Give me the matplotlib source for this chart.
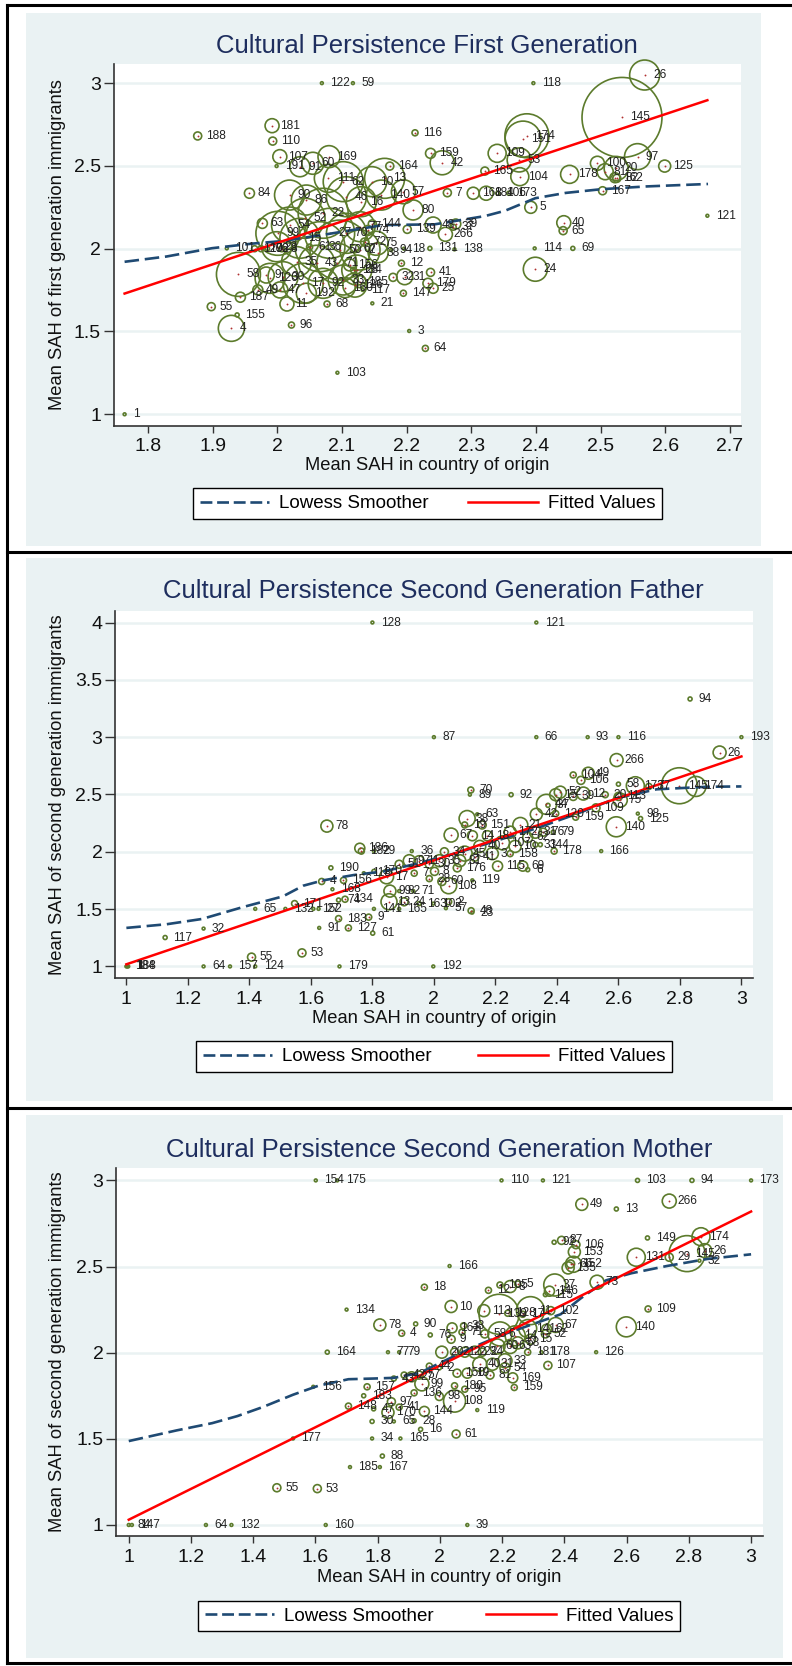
import matplotlib
matplotlib.use("Agg")
import matplotlib.pyplot as plt
from matplotlib.lines import Line2D
from matplotlib.patches import Rectangle
import numpy as np

W, H = 792, 1666

# ---------------- panel 1: first generation ----------------
P1_LABELS = [
    "26", "145", "118", "174", "151", "109", "53", "104", "165", "159",
    "42", "116", "178", "100", "81", "20", "162", "82", "97", "125",
    "167", "121", "5", "40", "65", "114", "69", "24", "173", "106",
    "184", "168", "7", "138", "131", "48", "39", "37", "266", "41",
    "179", "25", "80", "84", "63", "58", "187", "55", "155", "4",
    "96", "11", "68", "21", "117", "185", "147", "32", "31", "12",
    "3", "64", "103", "1", "94", "18", "38", "156", "134", "101",
    "188", "181", "110", "107", "191", "122", "59", "60", "169", "164",
    "13", "139", "111", "62", "10", "57", "91", "90", "86", "46",
    "16", "140", "54", "52", "22", "99", "15", "27", "70", "77",
    "36", "50", "2", "75", "35", "43", "71", "28", "120", "30",
    "17", "92", "33", "126", "47", "192", "160", "49", "9", "23",
    "129", "102", "76", "8", "61", "67", "72", "74", "144"]
P1_X = [
    2.568, 2.533, 2.396, 2.386, 2.380, 2.340, 2.374, 2.375, 2.321, 2.237,
    2.255, 2.213, 2.452, 2.495, 2.507, 2.524, 2.522, 2.525, 2.557, 2.599,
    2.503, 2.665, 2.392, 2.443, 2.442, 2.398, 2.457, 2.399, 2.358, 2.341,
    2.323, 2.303, 2.263, 2.274, 2.236, 2.241, 2.276, 2.272, 2.260, 2.237,
    2.233, 2.241, 2.210, 1.957, 1.977, 1.940, 1.943, 1.898, 1.938, 1.929,
    2.022, 2.015, 2.077, 2.147, 2.132, 2.128, 2.195, 2.179, 2.197, 2.192,
    2.204, 2.229, 2.093, 1.764, 2.176, 2.196, 2.156, 2.112, 2.118, 1.922,
    1.877, 1.992, 1.993, 2.004, 1.999, 2.069, 2.117, 2.055, 2.080, 2.174,
    2.166, 2.201, 2.079, 2.102, 2.146, 2.195, 2.035, 2.019, 2.045, 2.107,
    2.130, 2.161, 2.019, 2.043, 2.071, 2.001, 2.035, 2.081, 2.107, 2.128,
    2.066, 2.097, 2.128, 2.153, 2.030, 2.061, 2.092, 2.123, 1.989, 2.009,
    2.040, 2.071, 2.102, 2.120, 2.004, 2.045, 2.105, 1.970, 1.983, 1.999,
    1.965, 1.975, 1.985, 2.007, 2.050, 2.120, 2.135, 2.140, 2.147]
P1_Y = [
    3.049, 2.793, 3.0, 2.682, 2.662, 2.576, 2.536, 2.435, 2.469, 2.576,
    2.519, 2.700, 2.449, 2.516, 2.465, 2.485, 2.429, 2.425, 2.556, 2.499,
    2.350, 2.199, 2.250, 2.157, 2.109, 2.002, 2.002, 1.876, 2.335, 2.335,
    2.335, 2.335, 2.338, 1.996, 2.002, 2.143, 2.149, 2.130, 2.087, 1.857,
    1.791, 1.761, 2.234, 2.335, 2.153, 1.845, 1.707, 1.650, 1.600, 1.519,
    1.539, 1.666, 1.666, 1.670, 1.751, 1.801, 1.731, 1.827, 1.831, 1.912,
    1.503, 1.398, 1.251, 1.0, 1.992, 2.0, 1.976, 1.902, 1.870, 2.002,
    2.681, 2.743, 2.650, 2.556, 2.499, 3.0, 3.0, 2.516, 2.556, 2.499,
    2.425, 2.117, 2.425, 2.405, 2.405, 2.344, 2.495, 2.324, 2.294, 2.314,
    2.284, 2.324, 2.143, 2.184, 2.214, 2.093, 2.063, 2.093, 2.093, 2.133,
    2.012, 1.992, 1.992, 2.033, 1.922, 1.912, 1.912, 1.871, 1.821, 1.831,
    1.791, 1.791, 1.811, 1.780, 1.751, 1.731, 1.765, 1.751, 1.841, 2.012,
    2.0, 2.0, 2.0, 2.0, 2.010, 2.000, 2.040, 2.110, 2.150]
P1_W = [
    225, 1600, 2, 484, 324, 81, 144, 81, 16, 25,
    144, 9, 81, 49, 64, 144, 25, 16, 169, 36,
    16, 2, 36, 49, 16, 2, 4, 144, 4, 4,
    49, 36, 16, 2, 4, 64, 25, 9, 49, 16,
    25, 25, 100, 25, 25, 484, 25, 16, 4, 169,
    9, 49, 9, 2, 2, 36, 9, 16, 64, 9,
    2, 9, 2, 2, 2, 2, 100, 36, 9, 2,
    16, 49, 16, 49, 2, 2, 2, 121, 121, 16,
    400, 16, 196, 400, 225, 144, 100, 225, 225, 400,
    225, 225, 324, 400, 625, 484, 400, 625, 400, 225,
    625, 900, 400, 144, 225, 324, 400, 225, 225, 225,
    400, 225, 225, 144, 64, 100, 100, 25, 64, 225,
    9, 9, 4, 9, 9, 16, 16, 25, 16]
P1_LOW_X = [1.764, 1.829, 1.899, 1.962, 2.008, 2.079, 2.164, 2.243,
            2.321, 2.352, 2.399, 2.446, 2.500, 2.570, 2.666]
P1_LOW_Y = [1.921, 1.953, 2.003, 2.031, 2.046, 2.089, 2.143, 2.147,
            2.197, 2.229, 2.305, 2.337, 2.359, 2.376, 2.391]
P1_FIT = (-0.557, 1.296)
P1_XTICKS = [1.8, 1.9, 2.0, 2.1, 2.2, 2.3, 2.4, 2.5, 2.6, 2.7]
P1_XTICKLABELS = ["1.8", "1.9", "2", "2.1", "2.2", "2.3", "2.4", "2.5", "2.6", "2.7"]
P1_YTICKS = [1, 1.5, 2, 2.5, 3]
P1_YTICKLABELS = ["1", "1.5", "2", "2.5", "3"]

# ---------------- panel 2: second generation, father ----------------
P2_LABELS = [
    "128", "121", "94", "87", "66", "93", "116", "193", "26", "266",
    "104", "49", "106", "173", "58", "145", "174", "77", "113", "75",
    "92", "70", "89", "44", "15", "52", "12", "20", "39", "109",
    "159", "120", "37", "42", "98", "125", "140", "166", "178", "144",
    "78", "63", "38", "190", "4", "156", "168", "74", "134", "65",
    "117", "32", "171", "132", "152", "27", "91", "127", "183", "9",
    "61", "53", "55", "64", "157", "124", "179", "192", "184", "188",
    "1", "186", "182", "29", "36", "99", "82", "71", "141", "165",
    "163", "24", "13", "102", "2", "57", "48", "23", "119", "108",
    "60", "176", "17", "51", "97", "11", "30", "35", "34", "67",
    "81", "45", "14", "40", "18", "3", "115", "107", "172", "21",
    "10", "62", "31", "76", "79", "69", "6", "158", "33", "151",
    "19", "41", "8", "28", "7", "170", "118"]
P2_X = [
    1.800, 2.333, 2.833, 2.000, 2.333, 2.500, 2.600, 3.000, 2.929, 2.594,
    2.453, 2.502, 2.478, 2.655, 2.600, 2.798, 2.852, 2.699, 2.600, 2.606,
    2.251, 2.120, 2.117, 2.366, 2.396, 2.411, 2.486, 2.557, 2.453, 2.527,
    2.461, 2.396, 2.371, 2.333, 2.663, 2.672, 2.593, 2.544, 2.391, 2.346,
    1.652, 2.141, 2.108, 1.665, 1.635, 1.706, 1.670, 1.690, 1.711, 1.419,
    1.126, 1.251, 1.547, 1.517, 1.608, 1.625, 1.627, 1.722, 1.690, 1.788,
    1.801, 1.571, 1.407, 1.251, 1.337, 1.419, 1.693, 1.998, 1.000, 1.003,
    1.006, 1.759, 1.764, 1.805, 1.928, 1.857, 1.887, 1.933, 1.805, 1.887,
    1.952, 1.903, 1.854, 1.998, 2.048, 2.039, 2.121, 2.125, 2.125, 2.048,
    2.026, 2.076, 1.846, 1.887, 1.920, 1.952, 1.985, 2.018, 2.034, 2.056,
    2.084, 2.100, 2.125, 2.149, 2.174, 2.190, 2.207, 2.223, 2.248, 2.281,
    2.264, 2.305, 2.330, 2.355, 2.388, 2.289, 2.305, 2.248, 2.330, 2.157,
    2.100, 2.133, 2.002, 1.985, 1.936, 1.805, 1.772]
P2_Y = [
    4.0, 4.0, 3.333, 3.0, 3.0, 3.0, 3.0, 3.0, 2.866, 2.8,
    2.670, 2.685, 2.623, 2.576, 2.590, 2.576, 2.570, 2.570, 2.483, 2.450,
    2.498, 2.539, 2.498, 2.414, 2.498, 2.520, 2.508, 2.498, 2.483, 2.383,
    2.302, 2.333, 2.405, 2.327, 2.333, 2.290, 2.218, 2.006, 2.006, 2.062,
    2.224, 2.327, 2.290, 1.860, 1.741, 1.751, 1.673, 1.579, 1.586, 1.502,
    1.252, 1.330, 1.548, 1.502, 1.502, 1.502, 1.336, 1.336, 1.417, 1.430,
    1.290, 1.118, 1.081, 1.0, 1.0, 1.0, 1.0, 1.0, 1.0, 1.0,
    1.0, 2.031, 2.006, 2.006, 2.006, 1.657, 1.657, 1.657, 1.502, 1.502,
    1.548, 1.564, 1.564, 1.548, 1.564, 1.508, 1.486, 1.470, 1.751, 1.704,
    1.741, 1.860, 1.782, 1.891, 1.922, 1.922, 1.891, 1.922, 2.0, 2.146,
    1.922, 1.984, 2.140, 2.047, 2.140, 1.984, 1.875, 2.078, 2.171, 2.234,
    2.047, 2.125, 2.171, 2.171, 2.171, 1.875, 1.844, 1.984, 2.062, 2.234,
    2.234, 1.953, 1.829, 1.766, 1.813, 1.829, 1.813]
P2_W = [
    2, 2, 4, 2, 2, 2, 2, 2, 42, 42,
    9, 36, 16, 81, 4, 324, 100, 9, 16, 49,
    4, 9, 2, 100, 36, 36, 42, 9, 16, 16,
    9, 9, 4, 36, 2, 4, 100, 2, 9, 4,
    36, 2, 64, 4, 9, 9, 2, 4, 9, 2,
    4, 2, 9, 2, 2, 2, 2, 9, 9, 9,
    4, 16, 16, 2, 2, 2, 2, 2, 2, 2,
    2, 25, 9, 2, 2, 36, 2, 2, 2, 2,
    4, 16, 64, 2, 9, 2, 9, 2, 2, 64,
    16, 16, 49, 16, 36, 25, 16, 36, 16, 49,
    36, 56, 25, 36, 25, 36, 25, 49, 36, 56,
    36, 25, 36, 16, 4, 25, 4, 9, 6, 16,
    9, 16, 16, 9, 9, 4, 2]
P2_LOW_X = [1.0, 1.131, 1.246, 1.378, 1.509, 1.575, 1.640, 1.739, 1.837,
            1.936, 2.067, 2.199, 2.330, 2.461, 2.593, 2.724, 2.888, 3.0]
P2_LOW_Y = [1.336, 1.368, 1.414, 1.517, 1.611, 1.704, 1.751, 1.797, 1.829,
            1.891, 1.984, 2.093, 2.202, 2.327, 2.467, 2.545, 2.567, 2.570]
P2_FIT = (0.112, 0.9065)
P2_XTICKS = [1, 1.2, 1.4, 1.6, 1.8, 2, 2.2, 2.4, 2.6, 2.8, 3]
P2_XTICKLABELS = ["1", "1.2", "1.4", "1.6", "1.8", "2", "2.2", "2.4", "2.6", "2.8", "3"]
P2_YTICKS = [1, 1.5, 2, 2.5, 3, 3.5, 4]
P2_YTICKLABELS = ["1", "1.5", "2", "2.5", "3", "3.5", "4"]

# ---------------- panel 3: second generation, mother ----------------
P3_LABELS = [
    "154", "175", "110", "121", "103", "94", "173", "49", "13", "266",
    "149", "174", "26", "145", "29", "32", "131", "73", "87", "106",
    "92", "153", "152", "135", "66", "166", "18", "12", "105", "8",
    "5", "37", "146", "115", "134", "10", "139", "113", "128", "11",
    "17", "102", "109", "140", "78", "90", "4", "161", "38", "71",
    "76", "9", "67", "62", "52", "164", "77", "79", "20", "21",
    "22", "23", "24", "178", "181", "126", "107", "169", "159", "6",
    "14", "141", "60", "63", "68", "58", "15", "40", "31", "33",
    "54", "81", "19", "150", "44", "2", "57", "42", "43", "99",
    "27", "156", "157", "183", "97", "148", "170", "47", "41", "30",
    "65", "28", "16", "61", "119", "108", "98", "144", "136", "180",
    "95", "34", "165", "177", "88", "185", "167", "55", "53", "84",
    "147", "64", "132", "160", "39"]
P3_X = [
    1.601, 1.670, 2.198, 2.331, 2.635, 2.810, 3.000, 2.456, 2.567, 2.737,
    2.667, 2.839, 2.851, 2.794, 2.737, 2.834, 2.631, 2.505, 2.391, 2.437,
    2.367, 2.432, 2.429, 2.412, 2.420, 2.031, 1.950, 2.156, 2.193, 2.226,
    2.250, 2.369, 2.352, 2.339, 1.700, 2.036, 2.190, 2.141, 2.218, 2.291,
    2.266, 2.356, 2.669, 2.599, 1.807, 1.922, 1.877, 2.039, 2.076, 2.071,
    1.969, 2.036, 2.372, 2.343, 2.339, 1.638, 1.833, 1.869, 2.006, 2.047,
    2.080, 2.112, 2.136, 2.326, 2.282, 2.502, 2.347, 2.234, 2.239, 2.193,
    2.242, 2.282, 2.185, 2.226, 2.250, 2.144, 2.291, 2.128, 2.169, 2.209,
    2.209, 2.161, 2.088, 2.055, 1.966, 1.998, 1.933, 1.885, 1.852, 1.942,
    1.909, 1.593, 1.766, 1.755, 1.844, 1.706, 1.833, 1.787, 1.869, 1.782,
    1.852, 1.917, 1.938, 2.052, 2.120, 2.047, 1.998, 1.950, 1.917, 2.047,
    2.080, 1.782, 1.873, 1.528, 1.815, 1.711, 1.807, 1.476, 1.606, 1.000,
    1.010, 1.248, 1.330, 1.633, 2.088]
P3_Y = [
    3.0, 3.0, 3.0, 3.0, 3.0, 3.0, 3.0, 2.861, 2.834, 2.880,
    2.666, 2.673, 2.592, 2.575, 2.554, 2.534, 2.554, 2.409, 2.652, 2.627,
    2.641, 2.585, 2.513, 2.492, 2.515, 2.503, 2.380, 2.362, 2.393, 2.384,
    2.399, 2.393, 2.357, 2.337, 2.250, 2.268, 2.223, 2.244, 2.229, 2.244,
    2.223, 2.244, 2.254, 2.150, 2.161, 2.167, 2.113, 2.144, 2.156, 2.119,
    2.103, 2.078, 2.161, 2.136, 2.109, 2.003, 2.003, 2.003, 2.003, 2.003,
    2.003, 2.003, 2.003, 2.003, 2.003, 2.003, 1.926, 1.854, 1.798, 2.109,
    2.098, 2.140, 2.036, 2.036, 2.057, 2.109, 2.078, 1.933, 1.933, 1.953,
    1.912, 1.870, 1.881, 1.881, 1.922, 1.912, 1.870, 1.870, 1.850, 1.819,
    1.860, 1.802, 1.802, 1.750, 1.715, 1.690, 1.653, 1.674, 1.684, 1.601,
    1.601, 1.605, 1.555, 1.528, 1.667, 1.719, 1.746, 1.659, 1.767, 1.808,
    1.788, 1.502, 1.502, 1.502, 1.400, 1.336, 1.336, 1.216, 1.211, 1.0,
    1.0, 1.0, 1.0, 1.0, 1.0]
P3_W = [
    2, 2, 2, 2, 4, 4, 2, 36, 4, 49,
    4, 81, 49, 324, 16, 2, 81, 49, 16, 16,
    4, 36, 64, 36, 16, 2, 9, 9, 9, 36,
    9, 121, 25, 4, 2, 36, 400, 36, 9, 196,
    9, 16, 9, 100, 36, 4, 9, 25, 9, 9,
    4, 16, 56, 25, 16, 4, 2, 2, 36, 16,
    25, 36, 16, 2, 9, 2, 16, 25, 9, 144,
    100, 81, 56, 49, 36, 16, 25, 49, 36, 49,
    25, 16, 25, 16, 9, 4, 16, 9, 6, 49,
    25, 2, 9, 4, 16, 9, 36, 4, 9, 4,
    2, 4, 4, 16, 2, 121, 16, 25, 9, 9,
    9, 2, 2, 2, 4, 2, 2, 16, 16, 2,
    2, 2, 2, 2, 2]
P3_LOW_X = [1.0, 1.154, 1.268, 1.349, 1.430, 1.528, 1.609, 1.706, 1.787, 1.852, 1.933,
            2.015, 2.112, 2.209, 2.307, 2.388, 2.453, 2.534, 2.615, 2.729, 2.859, 3.0]
P3_LOW_Y = [1.487, 1.549, 1.591, 1.632, 1.684, 1.756, 1.808, 1.846, 1.850, 1.854, 1.881,
            1.953, 2.036, 2.109, 2.171, 2.223, 2.316, 2.420, 2.461, 2.503, 2.544, 2.571]
P3_FIT = (0.136, 0.8945)
P3_XTICKS = P2_XTICKS
P3_XTICKLABELS = P2_XTICKLABELS
P3_YTICKS = [1, 1.5, 2, 2.5, 3]
P3_YTICKLABELS = ["1", "1.5", "2", "2.5", "3"]

TITLES = ["Cultural Persistence First Generation",
          "Cultural Persistence Second Generation Father",
          "Cultural Persistence Second Generation Mother"]
YLABELS = ["Mean SAH of first generation immigrants",
           "Mean SAH of second generation immigrants",
           "Mean SAH of second generation immigrants"]
XLABEL = "Mean SAH in country of origin"
LEGEND_LABELS = ["Lowess Smoother", "Fitted Values"]

# style
GREEN = "#5C7B2C"
NAVY = "#1F4A73"
RED = "#FF0000"
TITLE_COLOR = "#1E2E5E"
BG = "#EAF2F3"
FONT = ["Liberation Sans", "DejaVu Sans"]

plt.rcParams["font.family"] = FONT


def frac_rect(x0, y0, x1, y1):
    return [x0 / W, 1 - y1 / H, (x1 - x0) / W, (y1 - y0) / H]


def draw_panel(fig, layout, xlim, ylim, xticks, xticklabels, yticks, yticklabels,
               title, ylabel, labels, xs, ys, ws, low_x, low_y, fit):
    bx0, by0, bx1, by1 = layout["bg"]
    fig.patches.append(Rectangle((bx0 / W, 1 - by1 / H), (bx1 - bx0) / W, (by1 - by0) / H,
                                 transform=fig.transFigure, facecolor=BG, edgecolor="none",
                                 zorder=-5))
    px0, py0, px1, py1 = layout["plot"]
    ax = fig.add_axes(frac_rect(px0, py0, px1, py1))
    ax.set_zorder(1)
    ax.set_facecolor("white")
    ax.set_xlim(*xlim)
    ax.set_ylim(*ylim)

    xs = np.array(xs)
    ys = np.array(ys)
    ws = np.array(ws, dtype=float)

    ax.scatter(xs, ys, s=ws * 2.07, facecolors="none", edgecolors=GREEN,
               linewidths=1.2, clip_on=False, zorder=3)
    big = ws >= 9
    ax.scatter(xs[big], ys[big], s=1.8, c="#B03030", linewidths=0,
               clip_on=False, zorder=4)
    for lab, x, y in zip(labels, xs, ys):
        ax.annotate(lab, (x, y), xytext=(6, 0), textcoords="offset points",
                    va="center", ha="left", fontsize=8.6, color="#222222",
                    annotation_clip=False, zorder=6)

    ax.plot(low_x, low_y, color=NAVY, lw=1.9, linestyle=(0, (5.5, 2.2)), zorder=5)
    fx = np.array([xs.min(), xs.max()])
    ax.plot(fx, fit[0] + fit[1] * fx, color=RED, lw=1.8, zorder=5)

    ax.set_xticks(xticks)
    ax.set_xticklabels(xticklabels)
    ax.set_yticks(yticks)
    ax.set_yticklabels(yticklabels)
    ax.tick_params(axis="both", direction="out", width=1.0,
                   color="#333333", labelsize=14, labelcolor="#111111")
    ax.tick_params(axis="x", length=5, pad=4)
    ax.tick_params(axis="y", length=7, pad=2)
    ax.yaxis.grid(True, color=BG, lw=1.8)
    ax.set_axisbelow(True)
    for side in ["top", "right"]:
        ax.spines[side].set_visible(False)
    for side in ["left", "bottom"]:
        ax.spines[side].set_color("#333333")
        ax.spines[side].set_linewidth(1.2)

    cx = (px0 + px1) / 2
    fig.text(cx / W, 1 - layout["title_y"] / H, title, ha="center", va="center",
             fontsize=18.5, color=TITLE_COLOR)
    fig.text(cx / W, 1 - layout["xlabel_y"] / H, XLABEL, ha="center", va="center",
             fontsize=13.2, color="#111111")
    fig.text(58 / W, 1 - (py0 + py1) / 2 / H, ylabel, ha="center", va="center",
             rotation=90, fontsize=13.2, color="#111111")

    lx0, ly0, lx1, ly1 = layout["legend"]
    handles = [Line2D([], [], color=NAVY, lw=1.9, linestyle=(0, (4.5, 1.8))),
               Line2D([], [], color=RED, lw=1.8)]
    leg = fig.legend(handles, LEGEND_LABELS, loc="center",
                     bbox_to_anchor=frac_rect(lx0, ly0, lx1, ly1), mode="expand",
                     ncol=2, frameon=True, fancybox=False, edgecolor="black",
                     fontsize=13.5, handlelength=3.7, handletextpad=0.55,
                     borderpad=0.35, borderaxespad=0)
    leg.get_frame().set_linewidth(1.0)
    leg.get_frame().set_facecolor("white")
    leg.get_frame().set_alpha(1)
    return ax


fig = plt.figure(figsize=(W / 100, H / 100), dpi=100, facecolor="white")

LAYOUTS = [
    dict(bg=(26, 12.5, 761, 546), plot=(113.6, 63.6, 741, 425.7),
         title_y=46.4, xlabel_y=466, legend=(193, 486, 662, 521)),
    dict(bg=(26, 558, 773, 1101), plot=(115, 610.7, 752.5, 978),
         title_y=591, xlabel_y=1018.6, legend=(196, 1039, 672, 1074)),
    dict(bg=(26, 1115, 783, 1658), plot=(116, 1168, 762.6, 1536),
         title_y=1150, xlabel_y=1578, legend=(198, 1598, 680, 1634)),
]

draw_panel(fig, LAYOUTS[0], (1.747, 2.717), (0.931, 3.118), P1_XTICKS, P1_XTICKLABELS,
           P1_YTICKS, P1_YTICKLABELS, TITLES[0], YLABELS[0],
           P1_LABELS, P1_X, P1_Y, P1_W, P1_LOW_X, P1_LOW_Y, P1_FIT)
draw_panel(fig, LAYOUTS[1], (0.963, 3.036), (0.899, 4.103), P2_XTICKS, P2_XTICKLABELS,
           P2_YTICKS, P2_YTICKLABELS, TITLES[1], YLABELS[1],
           P2_LABELS, P2_X, P2_Y, P2_W, P2_LOW_X, P2_LOW_Y, P2_FIT)
draw_panel(fig, LAYOUTS[2], (0.959, 3.037), (0.936, 3.072), P3_XTICKS, P3_XTICKLABELS,
           P3_YTICKS, P3_YTICKLABELS, TITLES[2], YLABELS[2],
           P3_LABELS, P3_X, P3_Y, P3_W, P3_LOW_X, P3_LOW_Y, P3_FIT)

# black frame and panel separators
for y in [5, 552, 1108, 1663]:
    fig.add_artist(Line2D([7 / W, 1], [1 - y / H, 1 - y / H], color="black", lw=2.2,
                          transform=fig.transFigure))
fig.add_artist(Line2D([7 / W, 7 / W], [1 - 5 / H, 1 - 1663 / H], color="black", lw=2.2,
                      transform=fig.transFigure))

fig.savefig("out.png", dpi=100, facecolor="white")
